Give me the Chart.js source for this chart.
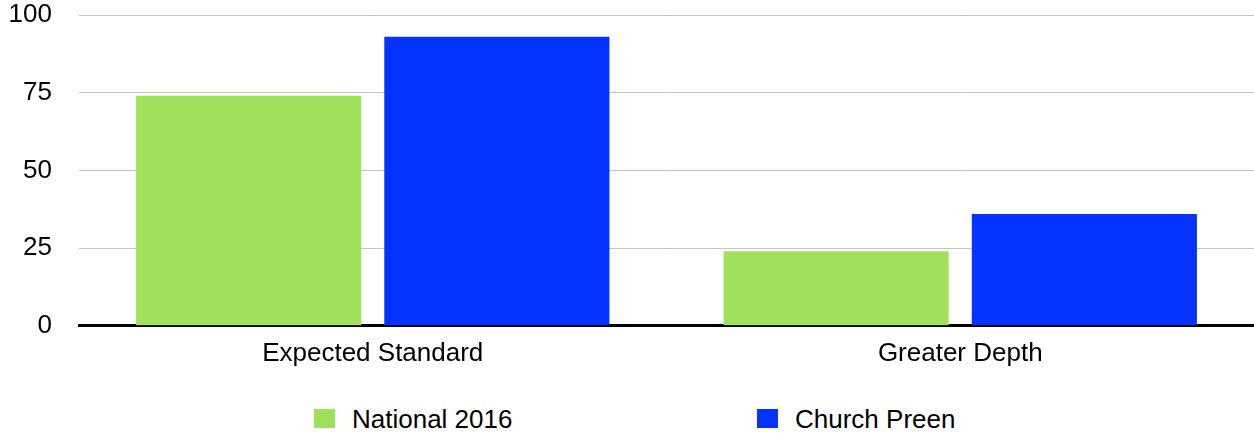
<!DOCTYPE html>
<html>
<head>
<meta charset="utf-8">
<script src="https://cdn.jsdelivr.net/npm/chart.js@4.4.0/dist/chart.umd.min.js"></script>
<style>
  html, body { margin: 0; padding: 0; background: #fff; }
  #wrap { position: relative; width: 1254px; height: 435px; }
  #box { position: absolute; left: 0; top: 0; width: 1254px; height: 385px; }
  #legend { position: absolute; left: 0; top: 404px; width: 1254px; height: 30px;
            font-family: 'Liberation Sans', Arial, sans-serif; font-size: 26px; color: #000; }
  .item { position: absolute; top: 0; height: 30px; line-height: 30px; white-space: nowrap; }
  .sw { position: absolute; top: 5px; left: 0; width: 21px; height: 19px; }
  .txt { position: absolute; left: 38px; top: 0; }
</style>
</head>
<body>
<div id="wrap">
  <div id="box"><canvas id="c"></canvas></div>
  <div id="legend"></div>
</div>
<script>
var categories = ['Expected Standard', 'Greater Depth'];
var national2016 = [74, 24];
var churchPreen = [93, 36];
var yTicks = [0, 25, 50, 75, 100];

var seriesNames = ['National 2016', 'Church Preen'];
var seriesColors = ['#A0E15B', '#0433FF'];
var legendLeft = [314, 757];

var font = { family: "'Liberation Sans', Arial, sans-serif", size: 26 };

var chart = new Chart(document.getElementById('c'), {
  type: 'bar',
  data: {
    labels: categories,
    datasets: [
      { label: seriesNames[0], data: national2016, backgroundColor: seriesColors[0], borderWidth: 0 },
      { label: seriesNames[1], data: churchPreen, backgroundColor: seriesColors[1], borderWidth: 0 }
    ]
  },
  options: {
    responsive: true, maintainAspectRatio: false, animation: false,
    categoryPercentage: 0.845, barPercentage: 0.907,
    layout: { padding: { left: 0, right: 0, top: 0, bottom: 12 } },
    plugins: { legend: { display: false }, tooltip: { enabled: false } },
    scales: {
      x: {
        grid: { display: false },
        border: { display: true, color: '#000', width: 3 },
        ticks: { color: '#000', font: font, padding: 4, maxRotation: 0 }
      },
      y: {
        min: 0, max: 100,
        afterBuildTicks: function(axis) { axis.ticks = yTicks.map(function(v) { return { value: v }; }); },
        afterFit: function(axis) {
          // keep the tick padding from growing the vertical margins
          axis.width = 79;
          axis.paddingTop = 15;
          axis.paddingBottom = 0;
        },
        grid: { color: '#c4c4c4', lineWidth: 1, drawTicks: false },
        border: { display: false },
        ticks: { color: '#000', font: font, padding: 27 }
      }
    }
  }
});

var leg = document.getElementById('legend');
chart.data.datasets.forEach(function(ds, i) {
  var it = document.createElement('div');
  it.className = 'item';
  it.style.left = legendLeft[i] + 'px';
  it.innerHTML = '<span class="sw" style="background:' + ds.backgroundColor + '"></span><span class="txt">' + ds.label + '</span>';
  leg.appendChild(it);
});
</script>
</body>
</html>
